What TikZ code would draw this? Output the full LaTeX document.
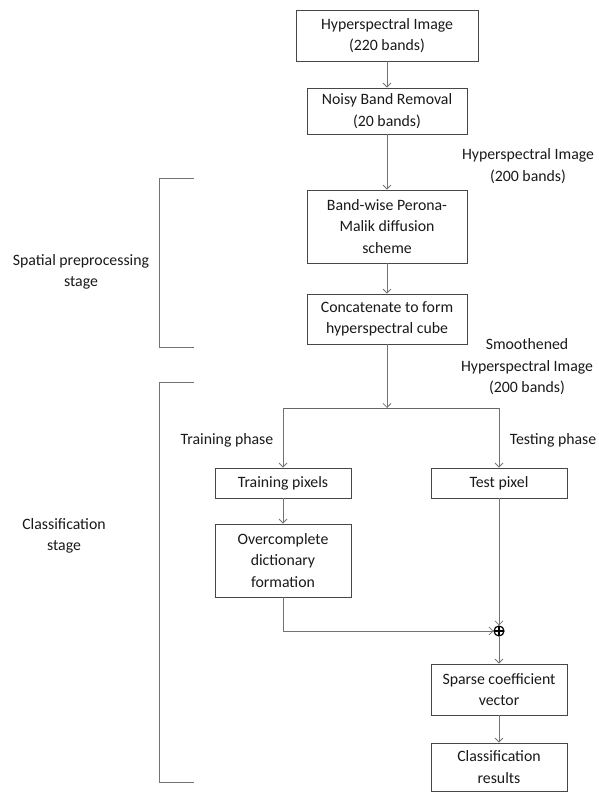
\documentclass[tikz,border=0pt]{standalone}
\usepackage{fontspec}
\setmainfont{Carlito}
\usetikzlibrary{arrows.meta}
\begin{document}
\begin{tikzpicture}[x=1pt,y=-1pt,
 box/.style={draw=black!72, line width=0.8pt, fill=white, align=center, inner sep=0pt, text=black!90, font=\fontsize{15.8}{21.5}\selectfont},
 lbl/.style={align=center, text=black!90, font=\fontsize{15.8}{21.5}\selectfont},
 conn/.style={draw=black!55, line width=0.8pt, -{Straight Barb[length=4pt,width=8pt]}},
 plain/.style={draw=black!60, line width=0.9pt},
 brk/.style={draw=black!55, line width=0.8pt},
 sumst/.style={circle, draw=black, line width=1.2pt, minimum size=10pt, inner sep=0pt,
   path picture={\draw[line width=1.2pt] (path picture bounding box.north) -- (path picture bounding box.south) (path picture bounding box.west) -- (path picture bounding box.east);}}]
\useasboundingbox (0,0) rectangle (598,792);

% main column
\node[box, minimum width=182pt, minimum height=51pt] (hsi) at (387,35.5) {Hyperspectral Image\\(220 bands)};
\node[box, minimum width=160pt, minimum height=46pt] (nbr) at (387,111) {Noisy Band Removal\\(20 bands)};
\node[box, minimum width=160pt, minimum height=73pt] (pm) at (387,226.5) {Band-wise Perona-\\Malik diffusion\\scheme};
\node[box, minimum width=160pt, minimum height=50pt] (cat) at (387,319) {Concatenate to form\\hyperspectral cube};

\node[box, minimum width=136pt, minimum height=30pt] (train) at (283,483) {Training pixels};
\node[box, minimum width=136pt, minimum height=30pt] (test) at (499,483) {Test pixel};
\node[box, minimum width=136pt, minimum height=73pt] (dict) at (283,560.5) {Overcomplete\\dictionary\\formation};
\node[sumst] (sum) at (499,631) {};
\node[box, minimum width=136pt, minimum height=51pt] (sparse) at (499,689.5) {Sparse coefficient\\vector};
\node[box, minimum width=136pt, minimum height=48pt] (result) at (499,767) {Classification\\results};

% labels
\node[lbl] (l1) at (528,166) {Hyperspectral Image\\(200 bands)};
\node[lbl] (l2) at (527,367) {Smoothened\\Hyperspectral Image\\(200 bands)};
\node[lbl] (trl) at (227,440) {Training phase};
\node[lbl] (tel) at (553,440) {Testing phase};
\node[lbl] (sps) at (81,272) {Spatial preprocessing\\stage};
\node[lbl] (cls) at (64,536) {Classification\\stage};

% brackets
\coordinate (b1a) at (194,178); \coordinate (b1b) at (159,178);
\coordinate (b1c) at (159,347); \coordinate (b1d) at (194,347);
\draw[brk] (b1a) -- (b1b) -- (b1c) -- (b1d);
\coordinate (b2a) at (194,382); \coordinate (b2b) at (159,382);
\coordinate (b2c) at (159,782); \coordinate (b2d) at (194,782);
\draw[brk] (b2a) -- (b2b) -- (b2c) -- (b2d);

% connectors
\coordinate (split) at (387,408);
\coordinate (sl) at (283,408);
\coordinate (sr) at (499,408);
\draw[conn] (hsi) -- (nbr);
\draw[conn] (nbr) -- (pm);
\draw[conn] (pm) -- (cat);
\draw[conn] (cat) -- (split);
\draw[plain] (sl) -- (sr);
\draw[conn] (sl) -- (train);
\draw[conn] (sr) -- (test);
\draw[conn] (train) -- (dict);
\draw[conn] (dict.south) |- (sum);
\draw[conn] (test) -- (sum);
\draw[conn] (sum) -- (sparse);
\draw[conn] (sparse) -- (result);
\end{tikzpicture}
\end{document}
